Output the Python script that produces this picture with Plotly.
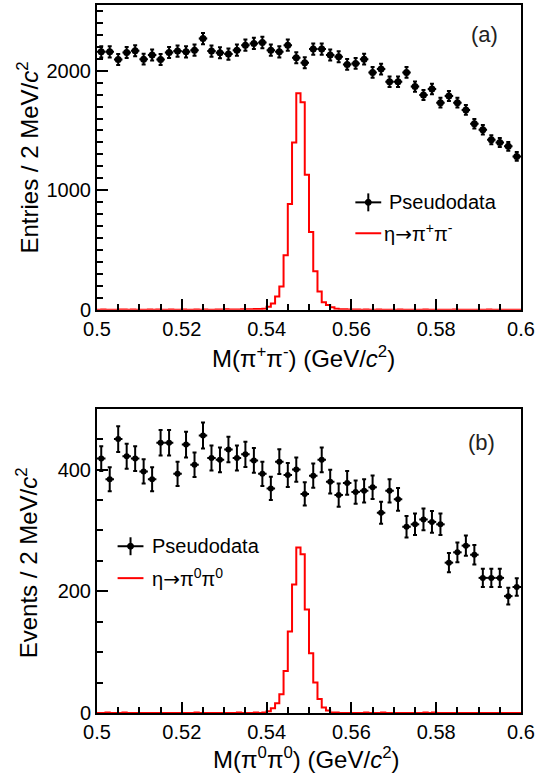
import numpy as np
import plotly.graph_objects as go
from plotly.subplots import make_subplots

# pseudodata, 2 MeV bins between 0.500 and 0.600 GeV (bin centres)
data_x = np.round(np.arange(0.501, 0.600, 0.002), 3)
pipi_charged = [2158, 2158, 2094, 2153, 2167, 2097, 2131, 2094, 2153, 2164,
                2158, 2172, 2269, 2164, 2150, 2139, 2172, 2214, 2228, 2236,
                2172, 2158, 2214, 2108, 2067, 2181, 2181, 2131, 2117, 2053,
                2061, 2097, 1986, 2014, 1908, 1908, 1986, 1867, 1797, 1847,
                1733, 1789, 1733, 1672, 1556, 1506, 1422, 1400, 1367, 1283]
pipi_neutral = [418, 384, 450, 422, 418, 397, 384, 444, 444, 393,
                441, 408, 456, 419, 416, 433, 419, 425, 415, 393,
                369, 413, 391, 400, 360, 390, 416, 380, 358, 378,
                363, 365, 371, 329, 365, 351, 306, 310, 318, 314,
                310, 247, 264, 275, 260, 222, 222, 222, 192, 207]

# eta signal shapes, 1 MeV bins (lower edges)
sig_edges = np.round(np.arange(0.500, 0.6001, 0.001), 3)
eta_charged = [0, 1, 0, 0, 0, 2, 1, 0, 1, 0,
               0, 0, 1, 0, 2, 0, 0, 1, 0, 0,
               1, 0, 0, 2, 0, 1, 0, 0, 1, 2,
               3, 1, 2, 2, 3, 4, 3, 5, 6, 9,
               25, 52, 110, 195, 455, 885, 1400, 1811, 1736, 1130,
               650, 322, 152, 63, 40, 21, 8, 4, 3, 2,
               1, 1, 0, 1, 0, 0, 1, 0, 0, 0,
               0, 1, 0, 0, 0, 0, 0, 1, 0, 0,
               0, 0, 0, 0, 1, 0, 0, 0, 0, 0,
               0, 0, 1, 0, 0, 0, 0, 0, 0, 0]
eta_neutral = [0, 0, 1, 0, 0, 0, 1, 0, 0, 0,
               0, 0, 0, 0, 0, 0, 0, 0, 0, 0,
               0, 0, 0, 1, 0, 0, 0, 0, 0, 0,
               0, 0, 0, 1, 0, 0, 0, 1, 0, 1,
               3, 8, 16, 31, 69, 134, 211, 272, 261, 170,
               98, 50, 23, 9, 4, 1, 1, 0, 0, 0,
               0, 0, 0, 1, 0, 0, 0, 1, 0, 0,
               0, 0, 0, 0, 0, 0, 0, 1, 0, 1,
               0, 0, 0, 0, 0, 0, 0, 0, 0, 0,
               0, 0, 0, 0, 0, 0, 0, 0, 0, 0]

W, H = 538, 781
ML, MR, MT, MB = 97.3, 14.5, 3, 67.7
PW = W - ML - MR
PH = H - MT - MB
FONT = "Liberation Sans, Arial, sans-serif"
ARROW = '<span style="font-family:DejaVu Sans">→</span>'


def fx(px):
    return (px - ML) / PW


def fy(py):
    return (H - MB - py) / PH


fig = make_subplots(rows=2, cols=1)

panels = [
    (1, pipi_charged, eta_charged, 7),
    (2, pipi_neutral, eta_neutral, 6),
]
for row, counts, sig, msize in panels:
    # red step histogram
    fig.add_trace(go.Scatter(
        x=list(sig_edges), y=sig + [sig[-1]], mode="lines",
        line=dict(color="#ff0000", width=2, shape="hv"),
        showlegend=False, hoverinfo="skip"), row=row, col=1)
    # pseudodata with poisson errors
    fig.add_trace(go.Scatter(
        x=data_x, y=counts, mode="markers",
        marker=dict(color="black", size=msize, symbol="circle"),
        error_y=dict(type="data", array=np.sqrt(counts), color="black",
                     thickness=2, width=2),
        error_x=dict(type="constant", value=0.001, color="black",
                     thickness=2, width=0),
        showlegend=False, hoverinfo="skip"), row=row, col=1)

axis_common = dict(
    showline=True, linecolor="black", linewidth=2, mirror=True,
    ticks="inside", ticklen=11, tickwidth=1.5, tickcolor="black",
    showgrid=False, zeroline=False,
    tickfont=dict(family=FONT, size=20, color="black"),
)
fig.update_xaxes(range=[0.5, 0.6], tick0=0.5, dtick=0.02,
                 minor=dict(dtick=0.005, ticks="inside", ticklen=6,
                            tickwidth=1.5, tickcolor="black"),
                 **axis_common)
fig.update_yaxes(tickformat="d", **axis_common)
fig.update_yaxes(range=[0, 2550], dtick=1000,
                 minor=dict(dtick=100, ticks="inside", ticklen=6,
                            tickwidth=1.5, tickcolor="black"), row=1, col=1)
fig.update_yaxes(range=[0, 500], dtick=200,
                 minor=dict(dtick=50, ticks="inside", ticklen=6,
                            tickwidth=1.5, tickcolor="black"), row=2, col=1)

top_lo = fy(308.7)
bot_hi = fy(408)
fig.update_layout(
    xaxis=dict(domain=[0, 1]), xaxis2=dict(domain=[0, 1]),
    yaxis=dict(domain=[top_lo, 1]), yaxis2=dict(domain=[0, bot_hi]),
)

title_font = dict(family=FONT, size=24, color="black")
text_font = dict(family=FONT, size=20, color="black")
annotations = [
    dict(text="Entries / 2 MeV/<i>c</i><sup>2</sup>", x=fx(27), y=fy(156),
         textangle=-90, font=title_font),
    dict(text="Events / 2 MeV/<i>c</i><sup>2</sup>", x=fx(27), y=fy(563),
         textangle=-90, font=title_font),
    dict(text="M(π<sup>+</sup>π<sup>-</sup>) (GeV/<i>c</i><sup>2</sup>)",
         x=fx(305), y=fy(356), font=title_font),
    dict(text="M(π<sup>0</sup>π<sup>0</sup>) (GeV/<i>c</i><sup>2</sup>)",
         x=fx(307), y=fy(758), font=title_font),
    dict(text="(a)", x=fx(487), y=fy(33), font=dict(family=FONT, size=22, color="#222")),
    dict(text="(b)", x=fx(484), y=fy(442), font=dict(family=FONT, size=22, color="#222")),
    dict(text="Pseudodata", x=fx(389), y=fy(201), xanchor="left", font=text_font),
    dict(text="η" + ARROW + "π<sup>+</sup>π<sup>-</sup>", x=fx(384), y=fy(232),
         xanchor="left", font=text_font),
    dict(text="Pseudodata", x=fx(151), y=fy(546), xanchor="left", font=text_font),
    dict(text="η" + ARROW + "π<sup>0</sup>π<sup>0</sup>", x=fx(151), y=fy(578),
         xanchor="left", font=text_font),
]
for a in annotations:
    a.setdefault("xanchor", "center")
    a.update(xref="paper", yref="paper", yanchor="middle", showarrow=False)

shapes = []
# legend keys: data cross + dot, red line
for cx, cy, ly in [(370, 201, 232), (131, 546, 578)]:
    shapes.append(dict(type="line", x0=fx(cx - 13), x1=fx(cx + 13), y0=fy(cy), y1=fy(cy),
                       line=dict(color="black", width=2)))
    shapes.append(dict(type="line", x0=fx(cx), x1=fx(cx), y0=fy(cy - 9), y1=fy(cy + 9),
                       line=dict(color="black", width=2)))
    shapes.append(dict(type="circle", x0=fx(cx - 3), x1=fx(cx + 3), y0=fy(cy - 3), y1=fy(cy + 3),
                       fillcolor="black", line=dict(color="black", width=1)))
    shapes.append(dict(type="line", x0=fx(cx - 13), x1=fx(cx + 13), y0=fy(ly), y1=fy(ly),
                       line=dict(color="#ff0000", width=2)))
for s in shapes:
    s.update(xref="paper", yref="paper")

fig.update_layout(
    width=W, height=H,
    margin=dict(l=ML, r=MR, t=MT, b=MB),
    paper_bgcolor="white", plot_bgcolor="white",
    annotations=annotations, shapes=shapes,
    showlegend=False,
    font=dict(family=FONT),
)

# the page's default 8px body margin would shift the whole figure
fig.write_html("out.html", config={"displayModeBar": False},
               post_script="document.body.style.margin='0px';")
